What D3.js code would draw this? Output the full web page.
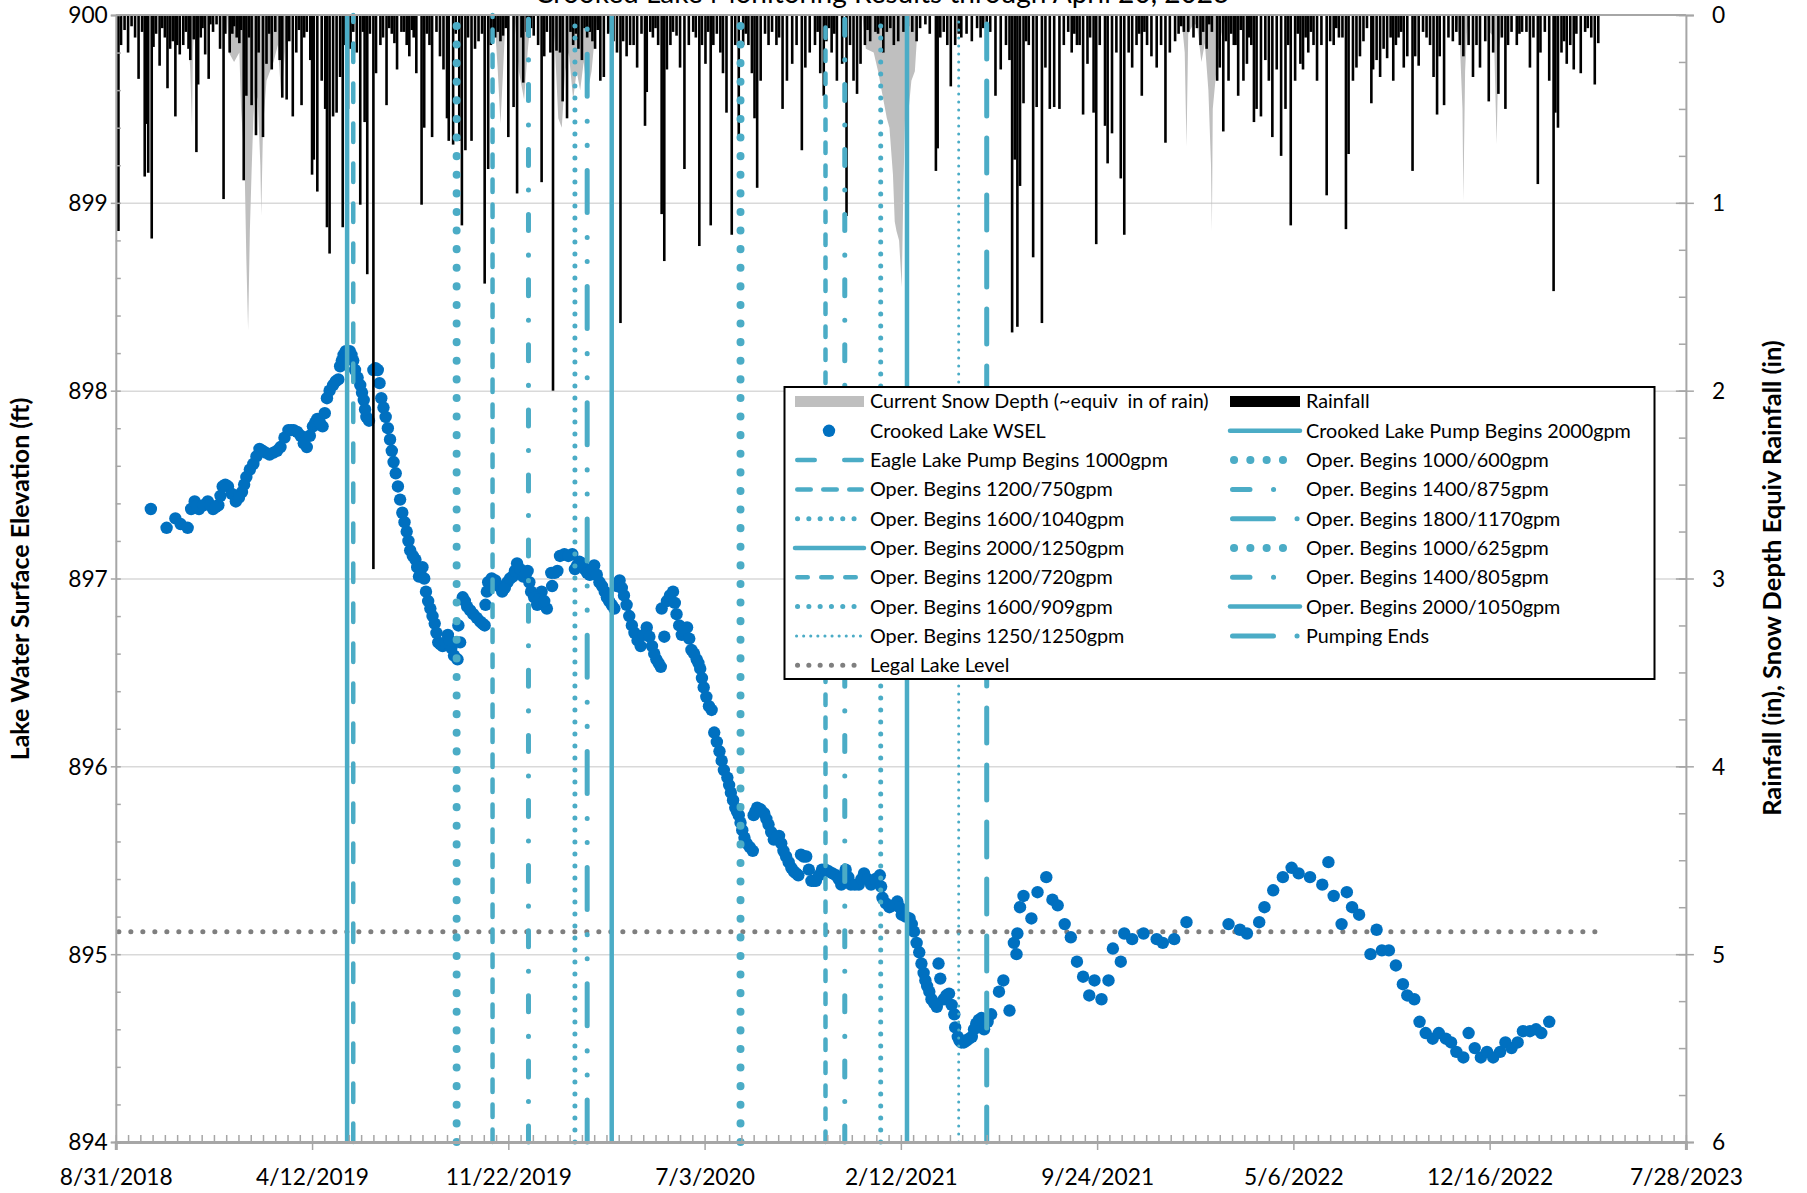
<!DOCTYPE html>
<html><head><meta charset="utf-8">
<script src="https://cdn.jsdelivr.net/npm/d3@7"></script>
<style>
html,body{margin:0;padding:0;background:#fff;}
svg{display:block;font-family:Lato,"Open Sans",sans-serif;}
</style></head><body>
<svg id="chart" width="1807" height="1193"></svg>
<script>
// ---------------- DATA ----------------
const titleText = "Crooked Lake Monitoring Results through April 20, 2023";
const yLeftTitle = "Lake Water Surface Elevation (ft)";
const yRightTitle = "Rainfall (in), Snow Depth Equiv Rainfall (in)";
const startDate = "2018-08-31";
const endDate = "2023-07-28";
const xTickLabels = ["8/31/2018","4/12/2019","11/22/2019","7/3/2020","2/12/2021","9/24/2021","5/6/2022","12/16/2022","7/28/2023"];
const yLeftTicks = [894,895,896,897,898,899,900];
const yRightTicks = [0,1,2,3,4,5,6];
const legalLakeLevel = 895.12;
const legalLakeEnd = "2023-04-20";

// Crooked Lake WSEL: day offset from startDate, elevation (ft)
const wselDay = [40,58,68,74,82,86,90,95,105,111,117,122,128,137,144,149,157,164,171,180,188,197,203,211,218,225,230,236,241,248,254,256,260,265,269,273,279,283,286,289,294,299,303,308,313,317,322,327,332,336,342,346,350,354,359,364,368,373,379,383,386,390,391,393,396,401,408,416,421,422,425,433,441,447,453,458,465,470,474,481,486,492,497,498,504,507,512,521,524,529,535,541,546,552,558,563,569,572,575,580,586,592,599,606,612,617,622,623,626,629,636,640,646,652,657,663,667,671,677,680,683,689,694,698,702,707,711,715,720,727,728,732,740,745,751,757,762,768,774,779,782,788,794,799,806,814,822,828,833,839,848,854,862,872,875,883,892,897,906,911,917,922,926,931,937,939,941,945,951,957,958,961,965,971,977,982,988,991,999,1008,1013,1020,1025,1028,1029,1032,1036,1045,1052,1062,1069,1075,1083,1090,1097,1104,1111,1117,1125,1133,1138,1147,1151,1160,1173,1188,1195,1208,1222,1270,1283,1291,1305,1311,1321,1332,1342,1350,1363,1377,1384,1390,1399,1405,1411,1419,1432,1439,1445,1453,1461,1469,1474,1482,1488,1495,1503,1510,1518,1524,1530,1538,1544,1551,1558,1565,1572,1580,1586,1593,1600,1606,1614,1621,1627,1636,
 92.5,100,108,114,119.5,125,132.5,140.5,146.5,153,160.5,167.5,175.5,184,192.5,200,207,214.5,221.5,227.5,233,238.5,244,251,258,262.5,267,271,276,281,284.5,296.5,301,305.5,310.5,315,319.5,324.5,329.5,334,339,344,348,352,356.5,361.5,366,370.5,376,381,398.5,404.5,412,418.5,423.5,429,437,444,450,455.5,461.5,467.5,472,477.5,483.5,489,501,516.5,526.5,532,538,543.5,549,555,560.5,566,577.5,583,589,595.5,602.5,609,614.5,619.5,632.5,638,643,649,654.5,660,665,669,674,686,691.5,700,704.5,709,713,717.5,723.5,730,736,742.5,748,754,759.5,765,771,776.5,785,791,796.5,802.5,810,818,825,830.5,836,843.5,851,858,867,873.5,879,887.5,894.5,901.5,908.5,914,919.5,924,928.5,934,948,954,963,968,974,979.5,985,995];
const wselFt = [897.37,897.27,897.32,897.29,897.27,897.37,897.41,897.37,897.41,897.37,897.39,897.49,897.49,897.41,897.46,897.54,897.61,897.69,897.67,897.67,897.70,897.79,897.79,897.76,897.70,897.81,897.85,897.81,897.96,898.03,898.06,898.13,898.19,898.20,898.19,898.11,898.03,897.95,897.86,897.84,898.11,898.11,897.96,897.86,897.74,897.62,897.49,897.35,897.25,897.15,897.10,897.01,897.06,896.93,896.84,896.76,896.66,896.64,896.70,896.63,896.59,896.57,896.75,896.66,896.90,896.85,896.81,896.77,896.75,896.86,896.98,896.99,896.93,896.98,897.01,897.08,897.01,897.04,896.93,896.86,896.93,896.84,897.03,896.96,897.04,897.12,897.13,897.13,897.05,897.09,897.05,897.02,897.07,896.98,896.93,896.88,896.84,896.96,896.99,896.91,896.80,896.71,896.64,896.74,896.64,896.57,896.53,896.84,896.69,896.88,896.93,896.81,896.70,896.74,896.62,896.57,896.52,896.42,896.32,896.30,896.18,896.08,895.98,895.94,895.86,895.78,895.74,895.66,895.59,895.55,895.74,895.78,895.75,895.69,895.61,895.63,895.55,895.49,895.44,895.42,895.53,895.52,895.39,895.39,895.45,895.44,895.42,895.37,895.45,895.37,895.37,895.43,895.37,895.42,895.30,895.25,895.28,895.21,895.19,895.12,895.01,894.90,894.83,894.76,894.72,894.95,894.87,894.76,894.79,894.68,894.61,894.56,894.53,894.54,894.56,894.63,894.66,894.60,894.68,894.80,894.86,894.70,895.06,895.00,895.11,895.25,895.31,895.19,895.33,895.41,895.29,895.26,895.16,895.09,894.96,894.88,894.78,894.86,894.76,894.86,895.03,894.96,895.11,895.08,895.11,895.08,895.06,895.08,895.17,895.16,895.13,895.11,895.17,895.25,895.34,895.41,895.46,895.43,895.41,895.37,895.49,895.31,895.16,895.33,895.25,895.21,895.00,895.13,895.02,895.02,894.94,894.84,894.78,894.76,894.64,894.58,894.55,894.58,894.55,894.53,894.48,894.45,894.58,894.50,894.45,894.48,894.45,894.48,894.53,894.50,894.53,894.59,894.59,894.60,894.58,894.64,
 897.39,897.39,897.39,897.38,897.44,897.50,897.45,897.43,897.50,897.58,897.65,897.68,897.66,897.68,897.75,897.79,897.78,897.72,897.76,897.83,897.83,897.88,898.00,898.05,898.16,898.21,898.21,898.16,898.07,897.99,897.90,898.12,898.04,897.91,897.80,897.68,897.56,897.42,897.30,897.20,897.12,897.06,897.02,897.00,896.88,896.80,896.71,896.65,896.66,896.67,896.88,896.83,896.79,896.76,896.93,897.00,896.96,896.95,897.00,897.04,897.05,897.02,896.98,896.90,896.89,896.88,897.03,897.12,897.07,897.08,897.03,897.05,897.02,896.96,896.90,896.86,896.95,896.86,896.75,896.67,896.70,896.69,896.60,896.55,896.91,896.87,896.75,896.72,896.68,896.60,896.55,896.47,896.37,896.13,896.03,895.90,895.82,895.76,895.70,895.62,895.57,895.76,895.77,895.72,895.65,895.62,895.59,895.52,895.46,895.43,895.52,895.45,895.39,895.42,895.45,895.43,895.40,895.41,895.41,895.37,895.40,895.40,895.40,895.36,895.27,895.26,895.25,895.20,895.16,895.06,894.95,894.86,894.80,894.74,894.78,894.73,894.54,894.53,894.55,894.60,894.65,894.64];

// Daily rainfall: day offset, inches
const rainDay = [3,6,22,26,30,33,35,37,41,43,50,56,59,62,68,70,73,77,85,89,92,94,102,106,111,115,119,123,125,130,138,146,149,155,160,163,168,172,178,182,187,190,195,202,206,212,218,222,224,226,230,235,239,241,244,248,252,256,259,262,265,275,279,282,284,287,290,294,297,302,309,315,321,326,332,343,349,352,355,361,366,370,374,378,380,385,392,395,399,402,406,410,414,418,421,425,433,442,448,454,458,463,465,469,477,482,486,489,492,496,499,503,507,510,515,519,522,532,547,553,557,562,572,576,579,583,587,591,595,600,604,606,610,619,623,626,629,633,636,640,644,649,654,659,666,669,673,676,679,682,686,690,693,697,703,707,711,716,722,726,729,732,736,741,745,749,754,761,766,772,777,783,787,792,798,804,808,817,823,829,834,838,842,846,850,855,861,867,870,876,880,888,893,899,909,914,918,924,929,936,938,945,953,958,965,971,977,983,998,1004,1010,1016,1020,1023,1026,1029,1032,1036,1042,1047,1051,1057,1061,1066,1071,1077,1082,1087,1091,1097,1104,1109,1116,1119,1123,1129,1132,1137,1142,1147,1151,1156,1160,1165,1171,1177,1182,1188,1193,1198,1203,1209,1213,1219,1224,1230,1238,1245,1251,1257,1260,1264,1270,1276,1281,1287,1291,1296,1299,1302,1307,1312,1316,1320,1325,1330,1335,1341,1346,1352,1355,1361,1367,1371,1376,1382,1390,1400,1404,1407,1412,1416,1420,1424,1428,1433,1435,1439,1443,1447,1451,1458,1464,1470,1474,1480,1483,1487,1492,1500,1504,1508,1511,1516,1521,1526,1530,1534,1538,1544,1549,1553,1557,1563,1567,1572,1578,1586,1589,1593,1599,1605,1610,1614,1618,1623,1626,1631,1636,1641,1643,1646,1650,1656,1660,1664,1667,1672,1677,1688,1692,
 10,14,18,46,53,65,80,83,97,99,108,133,135,141,143,152,175,198,209,215,268,271,305,312,318,329,335,338,340,358,388,428,431,436,439,445,472,474,525,528,535,538,541,544,550,565,568,613,616,662,719,757,801,811,814,820,858,873,884,904,941,949,962,987,990,994,1039,1094,1100,1112,1168,1174,1216,1234,1241,1248,1267,1273,1278,1284,1293,1338,1349,1358,1364,1386,1393,1396,1455,1461,1467,1496,1582,1602,1653,1680,1684];
const rainIn = [1.15,0.16,0.12,0.34,0.09,0.86,0.58,0.84,1.19,0.17,0.27,0.12,0.39,0.18,0.54,0.16,0.21,0.16,0.24,0.13,0.73,0.37,0.21,0.34,0.09,0.05,0.18,0.98,0.10,0.20,0.12,0.88,0.43,0.48,0.64,0.20,0.65,0.26,0.29,0.09,0.24,0.44,0.45,0.54,0.20,0.48,0.09,0.24,0.85,0.77,0.94,0.35,0.50,1.13,1.27,0.54,0.52,0.33,1.13,0.16,0.50,0.20,1.01,0.09,0.57,1.38,0.10,2.95,0.31,0.16,0.48,0.10,0.29,0.09,0.16,0.31,1.01,0.60,0.10,0.65,0.09,0.22,0.29,0.55,0.67,0.69,0.67,1.12,0.72,0.12,0.67,0.18,0.14,0.10,1.43,0.82,0.12,0.11,0.65,0.49,0.95,0.12,0.36,0.09,0.11,0.16,0.89,0.22,0.09,0.20,2.00,0.19,0.20,0.46,0.55,0.09,0.16,0.24,0.18,0.35,0.33,0.10,0.20,1.64,0.14,0.22,0.16,0.16,0.28,0.10,0.59,0.41,0.09,0.16,1.06,1.31,0.29,0.16,0.09,0.11,0.28,0.82,0.16,0.09,1.23,0.16,0.26,0.09,1.12,0.16,0.10,0.20,0.31,0.52,1.17,0.16,0.66,0.16,0.16,0.31,0.55,0.92,0.35,0.10,0.16,0.09,0.16,0.50,0.35,0.26,0.16,0.72,0.28,0.20,0.16,0.31,0.43,0.20,0.35,0.26,1.07,0.16,0.35,0.42,0.26,0.16,0.14,0.09,0.10,0.20,0.09,0.16,0.14,0.09,0.09,0.14,0.07,0.05,0.10,0.83,0.71,0.09,0.38,0.16,0.12,0.10,0.14,0.07,0.09,0.43,0.29,0.16,0.24,1.69,0.77,1.66,0.91,0.47,0.16,1.29,0.49,1.64,0.28,0.50,0.49,0.50,0.16,0.09,0.20,0.16,0.53,0.26,0.52,1.22,0.16,0.59,0.79,0.63,0.20,0.87,1.17,0.20,0.28,0.16,0.43,0.16,0.22,0.28,0.16,0.68,0.20,0.14,0.10,0.09,0.09,0.12,0.16,0.18,0.09,0.35,0.28,0.62,0.35,0.16,0.43,0.35,0.26,0.16,0.57,0.50,0.54,0.24,0.35,0.65,0.29,0.75,0.50,1.12,0.35,0.26,0.29,0.20,0.16,0.35,0.16,0.96,0.16,0.12,1.14,0.74,0.35,0.28,0.22,0.14,0.07,0.47,0.29,0.24,0.33,0.18,0.23,0.35,0.12,0.28,0.22,0.83,0.22,0.27,0.09,0.16,0.33,0.53,0.22,0.48,0.12,0.14,0.09,0.16,0.22,0.16,0.33,0.16,0.28,0.14,0.46,0.20,0.42,0.50,0.16,0.09,0.16,0.09,0.09,0.28,0.12,0.90,0.20,0.09,0.35,1.47,0.52,0.60,0.20,0.26,0.16,0.29,0.10,0.31,0.09,0.37,0.15,
 0.08,0.20,0.06,0.10,0.07,0.14,0.09,0.18,0.12,0.07,0.05,0.10,0.06,0.15,0.08,0.12,0.10,0.14,0.08,0.12,0.18,0.09,0.12,0.07,0.15,0.09,0.22,0.08,0.12,0.16,0.10,0.16,0.07,0.09,0.14,0.07,0.12,0.07,0.10,0.18,0.07,0.12,0.09,0.14,0.08,0.09,0.14,0.12,0.07,0.12,0.10,0.12,0.09,0.14,0.07,0.10,0.08,0.06,0.07,0.06,0.12,0.16,0.10,0.12,0.07,0.14,0.14,0.10,0.16,0.12,0.10,0.09,0.06,0.07,0.09,0.05,0.14,0.10,0.16,0.08,0.12,0.16,0.10,0.12,0.09,0.14,0.07,0.12,0.12,0.16,0.09,0.12,0.12,0.10,0.14,0.07,0.12];

// Snow depth (equiv. inches of rain): day offset, inches
const snowDay = [0,82,85,87,88,90,95,96,100,102,127,129,135,141,143,147,149,151,153,155,157,159,162,165,166,168,172,176,180,185,189,193,197,432,436,439,442,445,455,460,466,470,474,498,501,505,509,513,517,522,526,530,534,538,543,547,550,852,856,865,870,874,880,883,887,889,891,894,897,899,901,904,908,912,916,1214,1217,1220,1222,1224,1226,1230,1234,1239,1243,1247,1250,1251,1252,1255,1258,1262,1266,1268,1530,1534,1537,1538,1540,1542,1545,1565,1568,1573,1576,1578,1581,1584,1693];
const snowIn = [0,0,0.3,0.6,0.2,0,0,0.09,0.05,0,0,0.2,0.25,0.2,0.5,0.8,1.3,1.68,1.15,0.83,0.55,0.4,0.45,0.8,1.07,0.6,0.35,0.3,0.25,0.16,0.45,0.2,0,0,0.3,0.58,0.3,0,0,0.3,0.45,0.2,0,0,0.15,0.55,0.6,0.3,0.2,0.45,0.3,0.4,0.25,0.42,0.3,0.1,0,0,0.18,0.2,0.3,0.4,0.55,0.6,0.85,1.1,1.15,1.2,1.45,0.9,0.5,0.55,0.35,0.3,0,0,0.05,0.2,0.7,0.1,0.08,0.05,0.05,0.25,0.15,0.4,0.8,1.15,0.5,0.35,0.2,0.1,0.03,0,0,0.15,0.5,0.99,0.3,0.1,0,0,0.09,0.12,0.69,0.2,0.09,0,0];

// Operational events (vertical lines)
const eventNames = ["Crooked Lake Pump Begins 2000gpm","Eagle Lake Pump Begins 1000gpm","Oper. Begins 1000/600gpm","Oper. Begins 1200/750gpm","Oper. Begins 1400/875gpm","Oper. Begins 1600/1040gpm","Oper. Begins 1800/1170gpm","Oper. Begins 2000/1250gpm","Oper. Begins 1000/625gpm","Oper. Begins 1200/720gpm","Oper. Begins 1400/805gpm","Oper. Begins 1600/909gpm","Oper. Begins 2000/1050gpm","Oper. Begins 1250/1250gpm","Pumping Ends"];
const eventDates = ["2019-05-22","2019-05-29","2019-09-24","2019-11-04","2019-12-15","2020-02-06","2020-02-20","2020-03-19","2020-08-13","2020-11-18","2020-12-10","2021-01-20","2021-02-19","2021-04-19","2021-05-21"];

const snowName = "Current Snow Depth (~equiv  in of rain)";
const rainName = "Rainfall";
const wselName = "Crooked Lake WSEL";
const legalName = "Legal Lake Level";

// ---------------- STYLE ----------------
const lineColor = "#4bacc6";
const styleSolid = {w:4.5, dash:null, leg:null};
const styleLg = {w:4.5, dash:"18.5,21.5", leg:"17.5,29.5"};
const styleDash750 = {w:4.5, dash:"12.5,12.5", leg:"13.5,12.5"};
const styleDash720 = {w:4.5, dash:"10.5,12.5", leg:"10.5,13.5"};
const styleRound = {w:8, dash:"0.1,18.5", leg:"0.1,16.2"};
const styleSmallDot = {w:5, dash:"0.1,11.9", leg:"0.1,11.2"};
const styleFineDot = {w:3, dash:"0.1,7.9", leg:"0.1,7"};
const styleDashDot = {w:5, dash:"16,24.5,0.1,24.5", leg:"17.5,23.5,0.1,24"};
const styleLgDDD = {w:5, dash:"42,25,0.1,24,0.1,25", leg:"41,23.5,0.1,30"};
const styleEnd = {w:5, dash:"35,22", leg:"41,23.5,0.1,30"};
const eventStyle = {
 "Crooked Lake Pump Begins 2000gpm":styleSolid,
 "Eagle Lake Pump Begins 1000gpm":styleLg,
 "Oper. Begins 1000/600gpm":styleRound,
 "Oper. Begins 1200/750gpm":styleDash750,
 "Oper. Begins 1400/875gpm":styleDashDot,
 "Oper. Begins 1600/1040gpm":styleSmallDot,
 "Oper. Begins 1800/1170gpm":styleLgDDD,
 "Oper. Begins 2000/1250gpm":styleSolid,
 "Oper. Begins 1000/625gpm":styleRound,
 "Oper. Begins 1200/720gpm":styleDash720,
 "Oper. Begins 1400/805gpm":styleDashDot,
 "Oper. Begins 1600/909gpm":styleSmallDot,
 "Oper. Begins 2000/1050gpm":styleSolid,
 "Oper. Begins 1250/1250gpm":styleFineDot,
 "Pumping Ends":styleEnd
};

// ---------------- CHART ----------------
const svg = d3.select("#chart");
const P = {l:115.8, r:1685.9, t:15, b:1142};
const parse = d3.timeParse("%Y-%m-%d");
const parseMDY = d3.timeParse("%m/%d/%Y");
const t0 = parse(startDate), t1 = parse(endDate);
const dayDate = d => new Date(t0.getTime() + d * 86400000);
const x = d3.scaleTime().domain([t0, t1]).range([P.l, P.r]);
const yL = d3.scaleLinear().domain([894, 900]).range([P.b, P.t]);
const yR = d3.scaleLinear().domain([0, 6]).range([P.t, P.b]);
const axisGray = "#a6a6a6";

// gridlines
svg.append("g").attr("transform", `translate(${P.l},0)`)
  .call(d3.axisLeft(yL).tickValues(yLeftTicks.filter(v => v > 894 && v < 900)).tickSize(-(P.r - P.l)).tickFormat(""))
  .call(g => g.select(".domain").remove())
  .selectAll("line").attr("stroke", "#d9d9d9").attr("stroke-width", 1.5);

// legal lake level
svg.append("line")
  .attr("x1", x(t0)+3).attr("x2", x(parse(legalLakeEnd)))
  .attr("y1", yL(legalLakeLevel)).attr("y2", yL(legalLakeLevel))
  .attr("stroke", "#7f7f7f").attr("stroke-width", 5).attr("stroke-linecap", "round")
  .attr("stroke-dasharray", "0.1,11.9");

// WSEL markers
svg.append("g").selectAll("circle").data(wselDay.map((d, i) => [d, wselFt[i]])).join("circle")
  .attr("cx", d => x(dayDate(d[0]))).attr("cy", d => yL(d[1])).attr("r", 6.2).attr("fill", "#0070c0");

// snow area
const snowData = snowDay.map((d, i) => [d, snowIn[i]]);
svg.append("path").datum(snowData)
  .attr("d", d3.area().x(d => x(dayDate(d[0]))).y0(yR(0)).y1(d => yR(d[1])))
  .attr("fill", "#bfbfbf");

// rain bars
svg.append("g").selectAll("rect").data(rainDay.map((d, i) => [d, rainIn[i]])).join("rect")
  .attr("x", d => x(dayDate(d[0])) - 1.3).attr("width", 2.6)
  .attr("y", yR(0)).attr("height", d => yR(d[1]) - yR(0)).attr("fill", "#000");

// event lines
const evG = svg.append("g");
eventNames.forEach((n, i) => {
  const s = eventStyle[n];
  const xx = x(parse(eventDates[i]));
  const ln = evG.append("line").attr("x1", xx).attr("x2", xx).attr("y1", yL(894)).attr("y2", yL(900))
    .attr("stroke", lineColor).attr("stroke-width", s.w);
  if (s.dash) ln.attr("stroke-dasharray", s.dash).attr("stroke-linecap", "round");
});

// axes
const xTickDates = xTickLabels.map(s => parseMDY(s));
const minorDates = [];
for (let d = 0; d <= 1792; d += 14) minorDates.push(dayDate(d));

const gxMinor = svg.append("g").attr("transform", `translate(0,${P.b})`)
  .call(d3.axisBottom(x).tickValues(minorDates).tickSize(-7).tickFormat(""));
gxMinor.select(".domain").remove();
gxMinor.selectAll("line").attr("stroke", axisGray).attr("stroke-width", 1.5);

const gx = svg.append("g").attr("transform", `translate(0,${P.b})`)
  .call(d3.axisBottom(x).tickValues(xTickDates).tickSize(8).tickFormat((d, i) => xTickLabels[i]));
gx.select(".domain").attr("stroke", axisGray).attr("stroke-width", 3);
gx.selectAll("line").attr("stroke", axisGray).attr("stroke-width", 1.5);
gx.selectAll("text").attr("y", 43).attr("dy", 0).attr("fill", "#000").style("font-family", "Lato");

const yLMinor = d3.range(894, 900.001, 0.2);
const gyMinor = svg.append("g").attr("transform", `translate(${P.l},0)`)
  .call(d3.axisLeft(yL).tickValues(yLMinor).tickSize(-5).tickFormat(""));
gyMinor.select(".domain").remove();
gyMinor.selectAll("line").attr("stroke", axisGray).attr("stroke-width", 1.5);

const gy = svg.append("g").attr("transform", `translate(${P.l},0)`)
  .call(d3.axisLeft(yL).tickValues(yLeftTicks).tickSize(5).tickFormat(d3.format("d")));
gy.select(".domain").attr("stroke", axisGray).attr("stroke-width", 2);
gy.selectAll("line").attr("stroke", axisGray).attr("stroke-width", 1.5);
gy.selectAll("text").attr("x", -8).attr("dy", "0.35em").attr("fill", "#000").style("font-family", "Lato");

const yRMinor = d3.range(0, 6.001, 0.25);
const grMinor = svg.append("g").attr("transform", `translate(${P.r},0)`)
  .call(d3.axisRight(yR).tickValues(yRMinor).tickSize(-7).tickFormat(""));
grMinor.select(".domain").remove();
grMinor.selectAll("line").attr("stroke", axisGray).attr("stroke-width", 1.5);
const grIn = svg.append("g").attr("transform", `translate(${P.r},0)`)
  .call(d3.axisRight(yR).tickValues(yRightTicks).tickSize(-10).tickFormat(""));
grIn.select(".domain").remove();
grIn.selectAll("line").attr("stroke", axisGray).attr("stroke-width", 1.5);
const gr = svg.append("g").attr("transform", `translate(${P.r},0)`)
  .call(d3.axisRight(yR).tickValues(yRightTicks).tickSize(8).tickFormat(d3.format("d")));
gr.select(".domain").attr("stroke", axisGray).attr("stroke-width", 2);
gr.selectAll("line").attr("stroke", axisGray).attr("stroke-width", 1.5);
gr.selectAll("text").attr("x", 26).attr("dy", "0.35em").attr("fill", "#000").style("font-family", "Lato");

// top border
svg.append("line").attr("x1", P.l).attr("x2", P.r).attr("y1", P.t).attr("y2", P.t)
  .attr("stroke", axisGray).attr("stroke-width", 2);

// font fitting helper
function fit(node, target, base) {
  node.style.fontSize = base + "px";
  const w = node.getComputedTextLength();
  return base * target / w;
}
const firstX = gx.selectAll("text").nodes()[0];
const tickFs = fit(firstX, 113, 20);
gx.selectAll("text").style("font-size", tickFs + "px");
gy.selectAll("text").style("font-size", tickFs + "px");
gr.selectAll("text").style("font-size", tickFs + "px");

// title
const tt = svg.append("text").attr("x", 882).attr("y", 3).attr("text-anchor", "middle")
  .attr("fill", "#000").text(titleText);
tt.style("font-size", fit(tt.node(), 695, 20) + "px");

// axis titles
const lt = svg.append("text").attr("transform", "translate(29,579) rotate(-90)").attr("text-anchor", "middle")
  .attr("font-weight", "bold").attr("fill", "#000").text(yLeftTitle);
lt.style("font-size", fit(lt.node(), 363, 20) + "px");
const rt = svg.append("text").attr("transform", "translate(1781,578) rotate(-90)").attr("text-anchor", "middle")
  .attr("font-weight", "bold").attr("fill", "#000").text(yRightTitle);
rt.style("font-size", fit(rt.node(), 476, 20) + "px");

// legend
const legendOrder = [snowName, rainName, wselName].concat(eventNames).concat([legalName]);
const lg = svg.append("g");
lg.append("rect").attr("x", 784.5).attr("y", 387).attr("width", 870).attr("height", 292)
  .attr("fill", "#fff").attr("stroke", "#000").attr("stroke-width", 2);
const colSym = [[795, 864], [1230, 1300]];
const colText = [870, 1306];
let legFs = null;
legendOrder.forEach((name, i) => {
  const row = Math.floor(i / 2), col = i % 2;
  const cy = 401.5 + row * 29.3;
  const [s0, s1] = colSym[col];
  if (name === snowName) {
    lg.append("rect").attr("x", s0).attr("y", cy - 5.5).attr("width", s1 - s0).attr("height", 11).attr("fill", "#bfbfbf");
  } else if (name === rainName) {
    lg.append("rect").attr("x", s0).attr("y", cy - 5.5).attr("width", s1 - s0).attr("height", 11).attr("fill", "#000");
  } else if (name === wselName) {
    lg.append("circle").attr("cx", (s0 + s1) / 2 - 0.5).attr("cy", cy).attr("r", 6.2).attr("fill", "#0070c0");
  } else if (name === legalName) {
    lg.append("line").attr("x1", s0 + 2.5).attr("x2", s1).attr("y1", cy).attr("y2", cy)
      .attr("stroke", "#7f7f7f").attr("stroke-width", 5).attr("stroke-linecap", "round").attr("stroke-dasharray", "0.1,11.2");
  } else {
    const s = eventStyle[name];
    const l = lg.append("line").attr("y1", cy).attr("y2", cy).attr("stroke", lineColor).attr("stroke-width", s.w);
    if (s.leg) l.attr("x1", s0 + s.w / 2).attr("x2", s1 - s.w / 2).attr("stroke-dasharray", s.leg).attr("stroke-linecap", "round");
    else l.attr("x1", s0).attr("x2", s1).attr("stroke-linecap", "round");
  }
  const t = lg.append("text").attr("x", colText[col]).attr("y", cy).attr("dy", "0.35em")
    .attr("fill", "#000").style("white-space", "pre").text(name);
  if (name === snowName) legFs = fit(t.node(), 339, 18);
});
lg.selectAll("text").style("font-size", legFs + "px");
</script>
</body></html>
